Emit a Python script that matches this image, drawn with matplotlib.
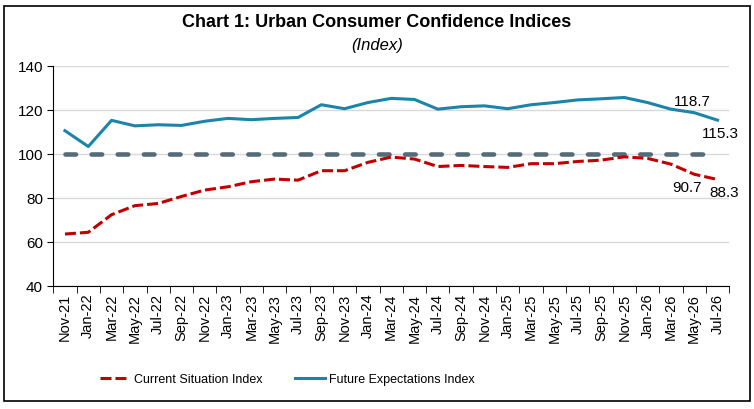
import numpy as np
import matplotlib.pyplot as plt
from matplotlib import font_manager
from matplotlib.patches import Rectangle

plt.rcParams['font.family'] = ['Liberation Sans', 'DejaVu Sans']

# Datos
meses = ['Nov-21', 'Jan-22', 'Mar-22', 'May-22', 'Jul-22', 'Sep-22', 'Nov-22',
         'Jan-23', 'Mar-23', 'May-23', 'Jul-23', 'Sep-23', 'Nov-23', 'Jan-24',
         'Mar-24', 'May-24', 'Jul-24', 'Sep-24', 'Nov-24', 'Jan-25', 'Mar-25',
         'May-25', 'Jul-25', 'Sep-25', 'Nov-25', 'Jan-26', 'Mar-26', 'May-26',
         'Jul-26']
actual = [63.5, 64.3, 72.3, 76.4, 77.4, 80.6, 83.5, 85.0, 87.3, 88.5, 88.0,
          92.3, 92.3, 96.1, 98.5, 97.6, 94.2, 94.7, 94.2, 93.8, 95.5, 95.5,
          96.5, 97.1, 98.6, 97.9, 95.3, 90.7, 88.3]
futuro = [110.5, 103.3, 115.2, 112.7, 113.2, 112.9, 114.8, 116.1, 115.5, 116.1,
          116.5, 122.3, 120.5, 123.3, 125.2, 124.7, 120.3, 121.4, 121.8, 120.5,
          122.3, 123.3, 124.5, 125.0, 125.6, 123.3, 120.3, 118.7, 115.3]
referencia = 100

x = np.arange(len(meses))

# fuente estrecha para la leyenda si existe
fuentes = font_manager.fontManager.ttflist
if any(f.name == 'Liberation Sans Narrow' for f in fuentes):
    fuente_ley = {'family': 'Liberation Sans Narrow', 'size': 11}
else:
    fuente_ley = {'family': 'Liberation Sans', 'size': 9}

fig = plt.figure(figsize=(7.54, 4.10), dpi=100)
ax = fig.add_axes([0.0707, 0.3007, 0.8963, 0.5363])

# marco exterior
fig.patches.append(Rectangle((0.005, 0.02), 0.99, 0.963, transform=fig.transFigure,
                             fill=False, edgecolor='black', linewidth=1.2))

ax.plot(x, [referencia] * len(x), color='#566b78', linewidth=3.3,
        linestyle=(0, (2.3, 3.4)), dash_capstyle='round', zorder=2)
ax.plot(x, futuro, color='#1b84a8', linewidth=2.2, label='Future Expectations Index', zorder=3)
ax.plot(x, actual, color='#c00000', linewidth=2.2, linestyle=(0, (3.6, 1.3)),
        label='Current Situation Index', zorder=3)

# etiquetas de los ultimos valores
ax.annotate(f'{futuro[-2]}', (x[-2], futuro[-2]), xytext=(-1, 3), textcoords='offset points',
            ha='center', va='bottom', fontsize=11)
ax.annotate(f'{futuro[-1]}', (x[-1], futuro[-1]), xytext=(2, -4), textcoords='offset points',
            ha='center', va='top', fontsize=11)
ax.annotate(f'{actual[-2]}', (x[-2], actual[-2]), xytext=(-5, -4), textcoords='offset points',
            ha='center', va='top', fontsize=11)
ax.annotate(f'{actual[-1]}', (x[-1], actual[-1]), xytext=(5, -4), textcoords='offset points',
            ha='center', va='top', fontsize=11)

ax.set_xlim(-0.5, len(x) - 0.5)
ax.set_ylim(40, 140)
ax.set_yticks(np.arange(40, 141, 20))
ax.set_xticks(x)
ax.set_xticklabels(meses, rotation=90, fontsize=10.5)
ax.set_xticks(np.arange(-0.5, len(x)), minor=True)
ax.tick_params(axis='x', which='major', length=0, pad=5)
ax.tick_params(axis='x', which='minor', length=5, direction='out')
ax.tick_params(axis='y', length=4, labelsize=11)
ax.grid(axis='y', color='#d9d9d9', linewidth=1)
ax.set_axisbelow(True)
for lado in ['top', 'right']:
    ax.spines[lado].set_visible(False)

fig.text(0.5, 0.945, 'Chart 1: Urban Consumer Confidence Indices', ha='center', va='center',
         fontsize=13, fontweight='bold')
fig.text(0.5, 0.89, '(Index)', ha='center', va='center', fontsize=12, style='italic')

fig.legend(handles=ax.lines[1:][::-1], loc='center left', bbox_to_anchor=(0.133, 0.072), ncol=2,
           frameon=False, handlelength=2.4, columnspacing=2.6, handletextpad=0.3,
           borderaxespad=0, borderpad=0, prop=fuente_ley)

fig.savefig('out.png', dpi=100)
